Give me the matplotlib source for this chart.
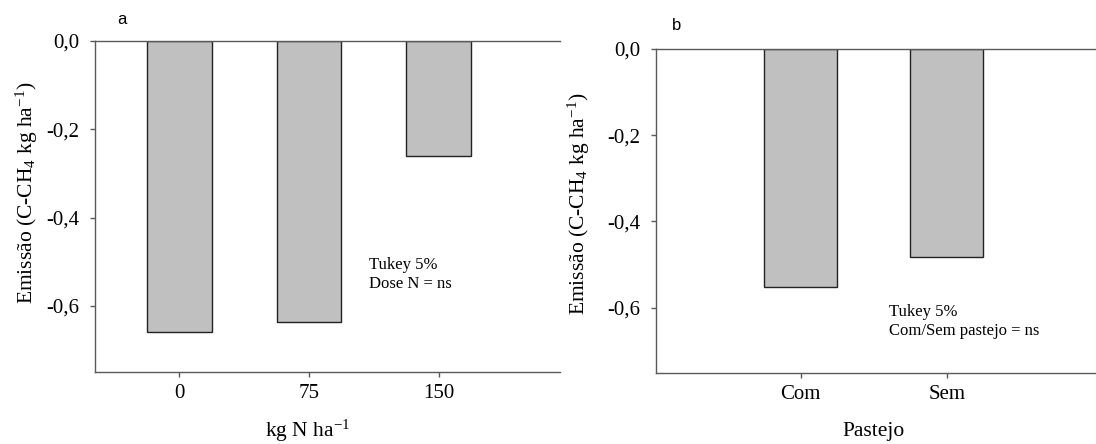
import matplotlib
matplotlib.use("Agg")
import matplotlib.pyplot as plt

plt.rcParams["font.family"] = ["Liberation Serif", "DejaVu Serif"]
plt.rcParams["mathtext.fontset"] = "custom"
plt.rcParams["mathtext.rm"] = "Liberation Serif"
plt.rcParams["mathtext.it"] = "Liberation Serif:italic"

# panel a: nitrogen dose
dose_labels = ["0", "75", "150"]
dose_values = [-0.658, -0.635, -0.261]

# panel b: grazing
graz_labels = ["Com", "Sem"]
graz_values = [-0.551, -0.483]

ytick_values = [0.0, -0.2, -0.4, -0.6]
ytick_labels = ["0,0", "-0,2", "-0,4", "-0,6"]

BAR_COLOR = "#c0c0c0"
SPINE_COLOR = "#5a5a5a"
W, H = 1096, 444


def style_axes(ax):
    ax.set_ylim(-0.75, 0.0)
    ax.set_yticks(ytick_values)
    ax.set_yticklabels(ytick_labels)
    ax.spines["right"].set_visible(False)
    for side in ("left", "bottom", "top"):
        ax.spines[side].set_color(SPINE_COLOR)
        ax.spines[side].set_linewidth(1.0)
    ax.tick_params(axis="y", direction="out", length=3.5, width=1,
                   color=SPINE_COLOR, pad=8, labelsize=15)
    ax.tick_params(axis="x", direction="out", length=3.5, width=1,
                   color=SPINE_COLOR, pad=5, labelsize=15)


fig = plt.figure(figsize=(W / 100, H / 100), dpi=100)

ylabel = "Emissão (C-CH$_4$ kg ha$^{-1}$)"

# ---- panel a
ax1 = fig.add_axes([95 / W, 1 - 372.3 / H, (560 - 95) / W, (372.3 - 41) / H])
pos1 = list(range(len(dose_values)))
ax1.bar(pos1, dose_values, width=0.5, color=BAR_COLOR, edgecolor="#222222",
        linewidth=1.0)
ax1.set_xticks(pos1)
ax1.set_xticklabels(dose_labels)
ax1.set_xlim(-0.65, 2.935)
style_axes(ax1)
ax1.text(369 / W, 1 - 274 / H, "Tukey 5%\nDose N = ns", transform=fig.transFigure,
         fontsize=12, va="center", ha="left", linespacing=1.25)
fig.text(27 / W, 1 - 192.5 / H, ylabel, rotation=90, ha="center", va="center",
         fontsize=15.5)
fig.text(307.5 / W, 1 - 431 / H, "kg N ha$^{-1}$", ha="center", va="center",
         fontsize=15.5)
fig.text(121.5 / W, 1 - 20 / H, "a", family="Liberation Sans", fontsize=12,
         ha="center", va="center")

# ---- panel b
ax2 = fig.add_axes([656 / W, 1 - 372.7 / H, (W - 656) / W, (372.7 - 48.7) / H])
pos2 = list(range(len(graz_values)))
ax2.bar(pos2, graz_values, width=0.5, color=BAR_COLOR, edgecolor="#222222",
        linewidth=1.0)
ax2.set_xticks(pos2)
ax2.set_xticklabels(graz_labels)
ax2.set_xlim(-0.99, 2.02)
style_axes(ax2)
ax2.text(889 / W, 1 - 321 / H, "Tukey 5%\nCom/Sem pastejo = ns",
         transform=fig.transFigure, fontsize=12, va="center", ha="left",
         linespacing=1.25)
fig.text(579 / W, 1 - 203.5 / H, ylabel, rotation=90, ha="center", va="center",
         fontsize=15.5)
fig.text(874 / W, 1 - 431 / H, "Pastejo", ha="center", va="center", fontsize=15.5)
fig.text(677 / W, 1 - 25 / H, "b", family="Liberation Sans", fontsize=12,
         ha="center", va="center")

fig.savefig("out.png", dpi=100)
